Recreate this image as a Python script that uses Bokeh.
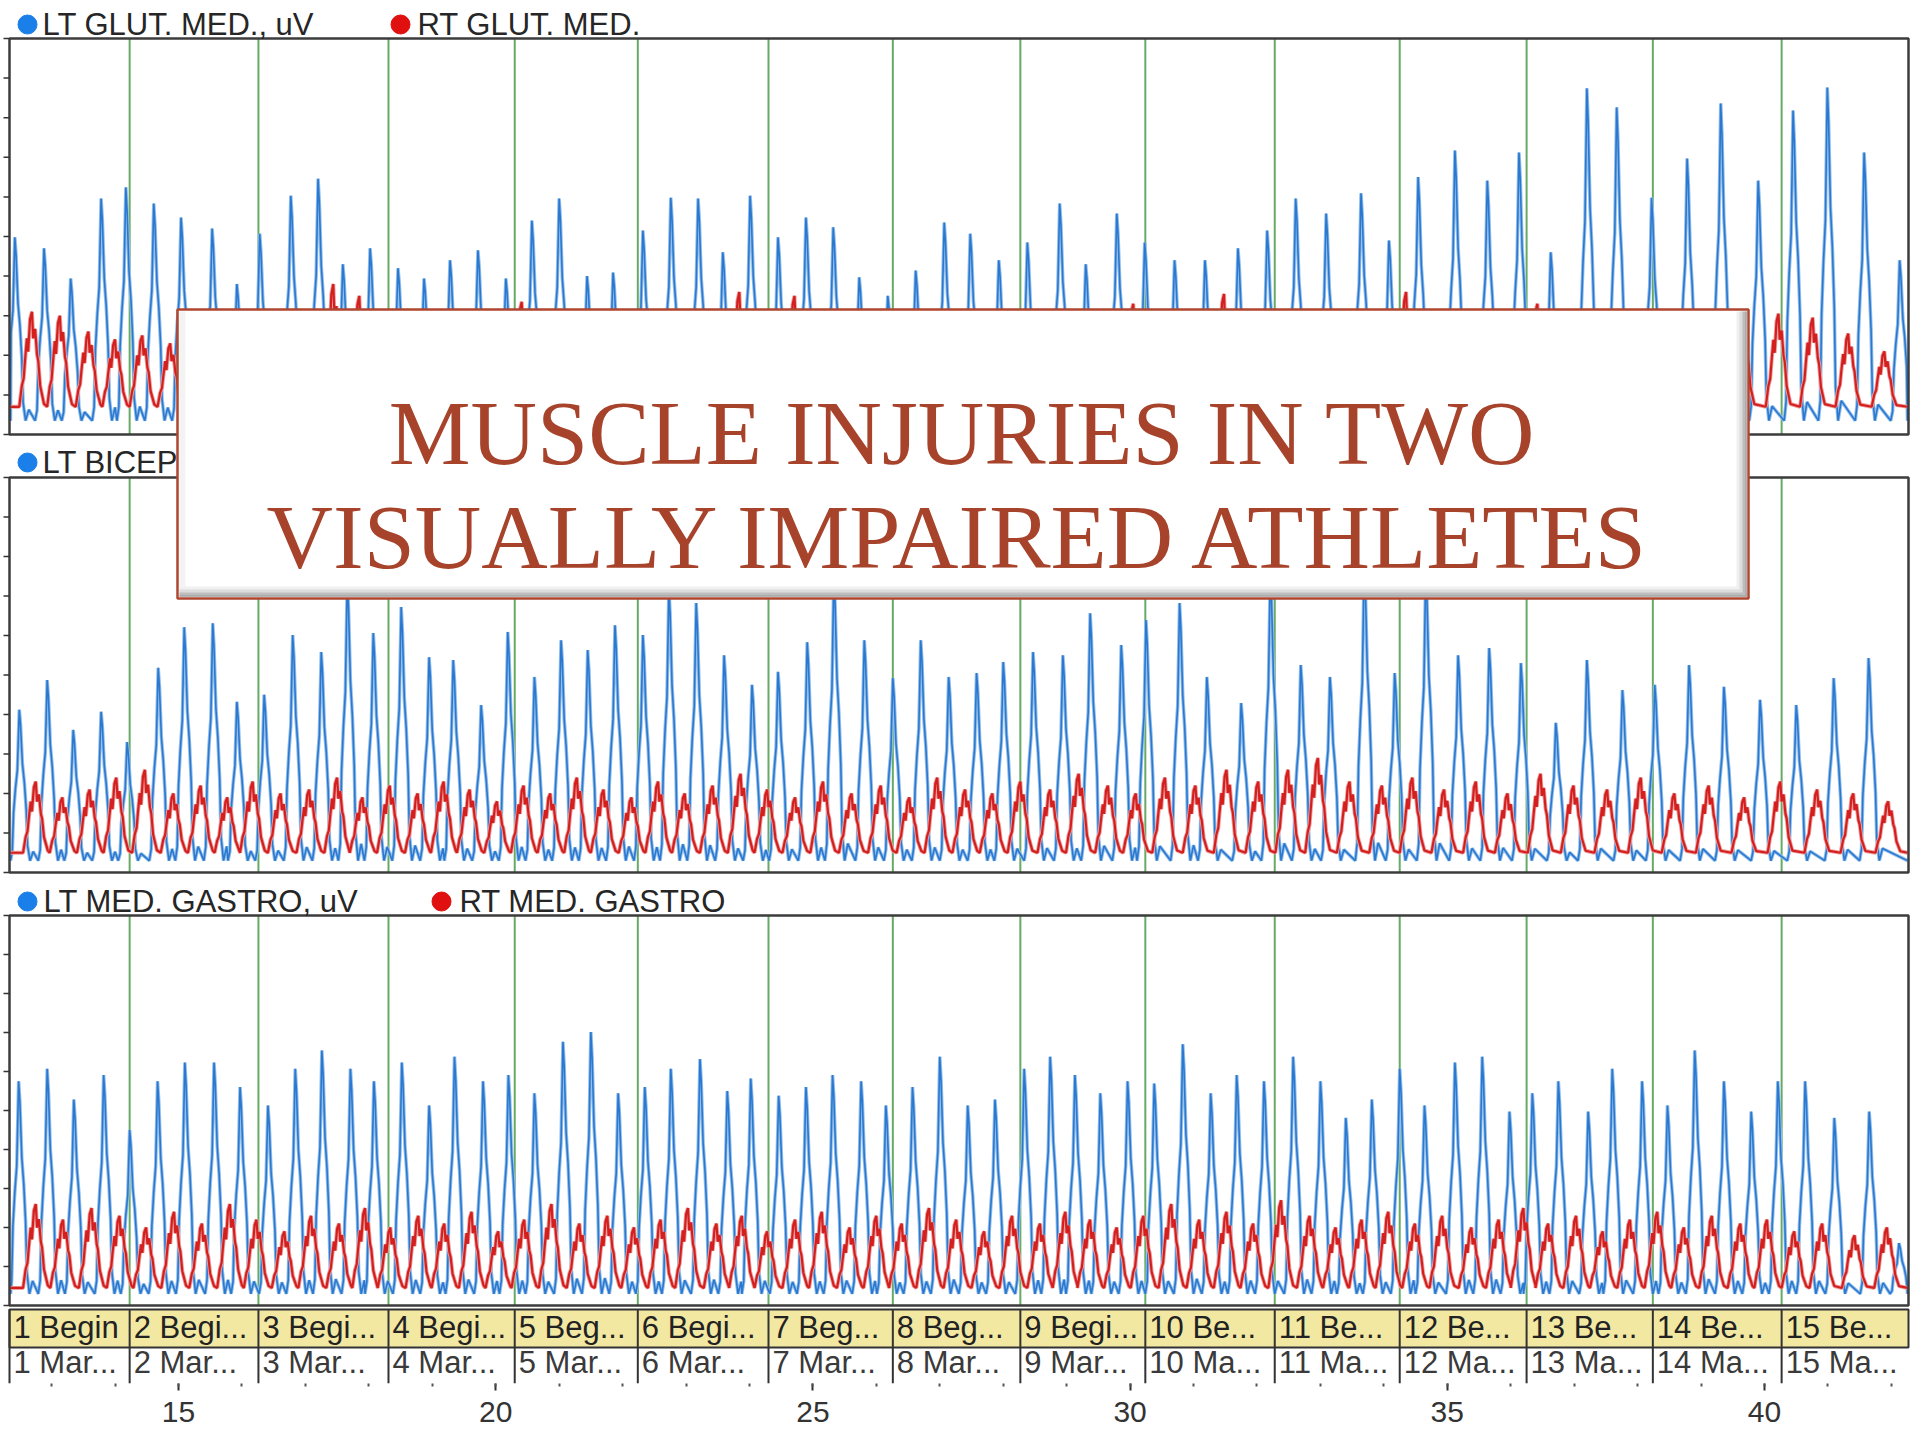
from bokeh.plotting import figure
from bokeh.models import Range1d, SingleIntervalTicker
from bokeh.core.properties import value
from bokeh.embed import file_html
from bokeh.resources import INLINE

# ---------------------------------------------------------------- data
EVENT_MARKERS = [14.23, 16.26, 18.31, 20.30, 22.24, 24.30, 26.26, 28.27,
                 30.24, 32.28, 34.25, 36.25, 38.24, 40.27]
EVENT_NAMES = ["1 Begin", "2 Begi...", "3 Begi...", "4 Begi...", "5 Beg...",
               "6 Begi...", "7 Beg...", "8 Beg...", "9 Begi...", "10 Be...",
               "11 Be...", "12 Be...", "13 Be...", "14 Be...", "15 Be..."]
EVENT_NOTES = ["1 Mar...", "2 Mar...", "3 Mar...", "4 Mar...", "5 Mar...",
               "6 Mar...", "7 Mar...", "8 Mar...", "9 Mar...", "10 Ma...",
               "11 Ma...", "12 Ma...", "13 Ma...", "14 Ma...", "15 Ma..."]

LT_NAMES = ["LT GLUT. MED., uV", "LT BICEPS FEM., uV", "LT MED. GASTRO, uV"]
RT_NAMES = ["RT GLUT. MED.", "RT BICEPS FEM.", "RT MED. GASTRO"]

TITLE_LINES = ["MUSCLE INJURIES IN TWO", "VISUALLY IMPAIRED ATHLETES"]

Y_TICKS = [0, 1, 2, 3, 4, 5, 6, 7, 8, 9, 10]

# trough levels (uV scale 0-10 per panel)
LT_BASE = [0.35, 0.30, 0.30]
RT_BASE = [0.70, 0.50, 0.45]

# panel 1 : glut. med.
P1_LT_X = [12.46, 12.92, 13.34, 13.82, 14.21, 14.65, 15.08, 15.57, 15.96, 16.32,
           16.81, 17.24, 17.63, 18.06, 18.50, 18.91, 19.32, 19.76, 20.20, 20.61,
           21.04, 21.48, 21.89, 22.36, 22.80, 23.23, 23.62, 24.05, 24.49, 24.93,
           25.36, 25.77, 26.22, 26.66, 27.11, 27.52, 27.97, 28.42, 28.93, 29.34,
           29.83, 30.27, 30.74, 31.22, 31.74, 32.20, 32.65, 33.13, 33.68, 34.12,
           34.58, 35.16, 35.67, 36.17, 36.67, 37.24, 37.71, 38.26, 38.82, 39.35,
           39.94, 40.49, 41.03, 41.61, 42.17]
P1_LT_PEAK = [4.98, 4.70, 3.94, 5.96, 6.24, 5.83, 5.48, 5.20, 3.80, 5.07,
              6.03, 6.46, 4.30, 4.70, 4.20, 3.94, 4.40, 4.65, 3.94, 5.40,
              5.96, 4.00, 4.09, 5.15, 5.98, 5.96, 4.60, 6.03, 4.98, 5.48,
              5.23, 3.97, 3.50, 4.14, 5.35, 5.07, 4.40, 4.85, 5.83, 4.30,
              5.58, 4.85, 4.40, 4.40, 4.70, 5.15, 5.96, 5.58, 6.09, 4.90,
              6.50, 7.17, 6.41, 7.12, 4.60, 8.74, 8.26, 5.98, 6.97, 8.36,
              6.41, 8.18, 8.76, 7.12, 4.40]
P1_RT_X = [12.69, 13.13, 13.58, 14.00, 14.43, 14.87, 15.32, 15.77, 16.14, 16.57,
           17.02, 17.44, 17.85, 18.28, 18.70, 19.12, 19.54, 19.98, 20.41, 20.83,
           21.26, 21.69, 22.12, 22.58, 23.02, 23.43, 23.84, 24.27, 24.71, 25.15,
           25.57, 26.00, 26.44, 26.89, 27.32, 27.75, 28.20, 28.68, 29.14, 29.59,
           30.05, 30.51, 30.98, 31.48, 31.97, 32.43, 32.89, 33.40, 33.90, 34.35,
           34.87, 35.42, 35.92, 36.42, 36.96, 37.48, 37.99, 38.54, 39.09, 39.65,
           40.22, 40.76, 41.32, 41.89]
P1_RT_PEAK = [3.10, 3.00, 2.60, 2.40, 2.50, 2.30, 2.60, 2.40, 2.70, 2.50,
              2.80, 3.80, 3.50, 2.70, 2.50, 2.90, 2.60, 2.80, 3.35, 2.60,
              2.70, 2.50, 2.90, 2.60, 2.80, 2.50, 3.60, 2.70, 3.50, 2.60,
              2.80, 2.50, 2.70, 2.90, 2.60, 2.80, 2.50, 2.70, 2.60, 2.90,
              3.30, 2.70, 2.50, 3.55, 2.80, 2.60, 2.90, 2.70, 2.60, 3.60,
              2.80, 2.60, 2.90, 3.30, 2.70, 2.80, 2.60, 2.90, 2.70, 2.90,
              3.05, 2.95, 2.55, 2.10]

# panel 2 : biceps fem.
P2_LT_X = [12.53, 12.97, 13.38, 13.82, 14.23, 14.72, 15.13, 15.58, 15.96, 16.39,
           16.84, 17.29, 17.70, 18.11, 18.55, 18.99, 19.37, 19.81, 20.23, 20.65,
           21.07, 21.49, 21.92, 22.36, 22.77, 23.20, 23.64, 24.08, 24.49, 24.95,
           25.37, 25.85, 26.30, 26.74, 27.18, 27.62, 28.04, 28.51, 28.98, 29.41,
           29.90, 30.29, 30.82, 31.25, 31.79, 32.25, 32.73, 33.19, 33.73, 34.21,
           34.70, 35.21, 35.70, 36.20, 36.75, 37.24, 37.80, 38.31, 38.85, 39.40,
           39.97, 40.54, 41.13, 41.68]
P2_LT_PEAK = [4.12, 4.87, 3.61, 4.07, 3.30, 5.18, 6.21, 6.31, 4.32, 4.50,
              6.01, 5.58, 7.40, 6.06, 6.72, 5.45, 5.38, 4.24, 6.09, 4.95,
              5.88, 5.63, 6.26, 6.01, 7.20, 6.82, 5.50, 4.75, 5.08, 5.83,
              7.50, 5.88, 4.92, 5.88, 4.95, 5.05, 5.33, 5.58, 5.50, 6.56,
              5.76, 6.39, 6.82, 4.95, 4.29, 7.60, 5.25, 4.95, 7.80, 5.05,
              7.60, 5.50, 5.68, 5.30, 3.79, 5.38, 4.62, 4.75, 5.25, 4.70,
              4.37, 4.24, 4.92, 5.43]
P2_RT_X = [12.75, 13.17, 13.60, 14.02, 14.47, 14.92, 15.35, 15.77, 16.17, 16.61,
           17.06, 17.50, 17.90, 18.33, 18.77, 19.18, 19.59, 20.02, 20.44, 20.86,
           21.28, 21.70, 22.14, 22.56, 22.98, 23.42, 23.86, 24.28, 24.72, 25.16,
           25.61, 26.07, 26.52, 26.96, 27.40, 27.83, 28.27, 28.74, 29.19, 29.65,
           30.09, 30.55, 31.03, 31.52, 32.02, 32.49, 32.96, 33.46, 33.97, 34.45,
           34.95, 35.45, 35.95, 36.47, 36.99, 37.52, 38.05, 38.58, 39.12, 39.68,
           40.25, 40.83, 41.40, 41.95]
P2_RT_PEAK = [2.3, 1.9, 2.1, 2.4, 2.6, 2.0, 2.2, 1.9, 2.3, 2.0,
              2.1, 2.4, 1.9, 2.2, 2.0, 2.3, 2.1, 1.8, 2.2, 2.0,
              2.4, 2.1, 1.9, 2.3, 2.0, 2.2, 2.5, 2.1, 1.9, 2.3,
              2.0, 2.2, 1.9, 2.4, 2.1, 2.0, 2.3, 2.1, 2.5, 2.2,
              2.0, 2.4, 2.2, 2.6, 2.3, 2.6, 2.9, 2.3, 2.2, 2.4,
              2.1, 2.3, 2.0, 2.5, 2.2, 2.1, 2.4, 2.0, 2.2, 1.9,
              2.3, 2.1, 2.0, 1.8]

# panel 3 : med. gastro
P3_LT_X = [12.52, 12.97, 13.39, 13.86, 14.27, 14.71, 15.14, 15.60, 16.01, 16.45,
           16.88, 17.30, 17.75, 18.12, 18.56, 18.99, 19.39, 19.84, 20.24, 20.65,
           21.10, 21.54, 21.97, 22.39, 22.80, 23.26, 23.69, 24.06, 24.50, 24.93,
           25.35, 25.80, 26.19, 26.61, 27.04, 27.48, 27.91, 28.37, 28.78, 29.17,
           29.57, 30.00, 30.42, 30.87, 31.31, 31.72, 32.15, 32.61, 33.04, 33.44,
           33.85, 34.29, 34.68, 35.16, 35.59, 36.02, 36.38, 36.79, 37.26, 37.64,
           38.11, 38.51, 38.94, 39.40, 39.83, 40.25, 40.68, 41.14, 41.69, 42.16]
P3_LT_PEAK = [5.75, 6.07, 5.28, 5.91, 4.50, 5.75, 6.23, 6.23, 5.60, 5.13,
              6.07, 6.54, 6.07, 5.75, 6.23, 5.13, 6.38, 5.75, 5.91, 5.44,
              6.76, 7.01, 5.44, 5.60, 6.07, 6.32, 5.50, 5.82, 5.38, 5.60,
              5.91, 5.75, 5.13, 5.60, 6.38, 5.13, 5.28, 6.07, 6.38, 5.91,
              5.44, 5.75, 5.69, 6.70, 5.44, 5.91, 5.75, 6.38, 5.75, 4.81,
              5.28, 6.07, 5.13, 6.23, 6.38, 4.97, 5.44, 5.75, 4.97, 6.07,
              5.75, 5.13, 6.54, 5.75, 4.97, 5.75, 5.75, 4.81, 4.97, 1.60]
P3_RT_X = [12.75, 13.18, 13.63, 14.07, 14.49, 14.93, 15.37, 15.81, 16.23, 16.67,
           17.09, 17.53, 17.94, 18.34, 18.78, 19.19, 19.62, 20.04, 20.45, 20.88,
           21.32, 21.76, 22.18, 22.60, 23.03, 23.48, 23.88, 24.28, 24.72, 25.14,
           25.58, 26.00, 26.40, 26.83, 27.26, 27.70, 28.14, 28.58, 28.98, 29.37,
           29.79, 30.21, 30.65, 31.09, 31.52, 31.94, 32.38, 32.83, 33.24, 33.65,
           34.07, 34.49, 34.92, 35.38, 35.81, 36.20, 36.59, 37.03, 37.45, 37.88,
           38.31, 38.73, 39.17, 39.62, 40.04, 40.47, 40.91, 41.42, 41.93]
P3_RT_PEAK = [2.6, 2.2, 2.5, 2.3, 2.0, 2.4, 2.1, 2.6, 2.2, 1.9,
              2.3, 2.1, 2.5, 2.0, 2.3, 2.1, 2.4, 1.9, 2.2, 2.6,
              2.1, 2.3, 2.0, 2.2, 2.5, 2.1, 2.3, 1.9, 2.2, 2.4,
              2.0, 2.3, 2.1, 2.5, 2.2, 1.9, 2.3, 2.1, 2.4, 2.2,
              2.0, 2.3, 2.6, 2.2, 2.4, 2.1, 2.7, 2.3, 2.0, 2.2,
              2.4, 2.1, 2.3, 2.0, 2.2, 2.5, 2.1, 2.3, 1.9, 2.2,
              2.4, 2.0, 2.3, 2.1, 2.2, 1.9, 2.1, 1.8, 2.0]

PANELS = [(P1_LT_X, P1_LT_PEAK, P1_RT_X, P1_RT_PEAK),
          (P2_LT_X, P2_LT_PEAK, P2_RT_X, P2_RT_PEAK),
          (P3_LT_X, P3_LT_PEAK, P3_RT_X, P3_RT_PEAK)]

# ---------------------------------------------------------------- layout (page pixels)
W, H = 1925, 1435
BOTTOM_BORDER = 52
REF_X0, REF_X1 = 0, W
REF_Y0, REF_Y1 = 0, H - BOTTOM_BORDER
X15_PX, PX_PER_UNIT = 178.0, 63.44
PANEL_L, PANEL_R = 9, 1908
PANEL_TB = [(38, 434), (477, 872), (915, 1305)]
LEGEND_MID = [24, 462, 901]          # cap centre of legend texts
LT_DOT_X, LT_TXT_X = [27, 27, 27], [42, 42, 43]
RT_DOT_X, RT_TXT_X = [400, 420, 441], [417, 437, 459]
TABLE_TOP, TABLE_MID, TABLE_BOT = 1309, 1347, 1383

BLUE, BLUE_HALO = "#2a78d0", "#94bfea"
RED, RED_HALO = "#d41f1f", "#eea0a0"
GREEN = "#66aa66"
FONT = "Liberation Sans"


def to_data_x(px):
    return 15 + (px - X15_PX) / PX_PER_UNIT


# shape templates of one burst (offset in s, fraction of amplitude)
LT_SHAPE = [(-0.18, 0.00), (-0.15, 0.06), (-0.13, 0.32), (-0.10, 0.48),
            (-0.07, 0.60), (-0.04, 1.00), (-0.02, 0.90), (0.01, 0.64),
            (0.04, 0.52), (0.07, 0.34), (0.09, 0.10), (0.13, 0.00), (0.18, 0.06)]
RT_SHAPE = [(-0.20, 0.00), (-0.16, 0.22), (-0.13, 0.30), (-0.11, 0.48),
            (-0.08, 0.72), (-0.06, 0.58), (-0.03, 0.92), (0.0, 1.00),
            (0.02, 0.72), (0.05, 0.82), (0.08, 0.55), (0.10, 0.48),
            (0.13, 0.22), (0.19, 0.03)]


def trace(xs, hs, base, shape):
    lo, hi = to_data_x(PANEL_L + 1), to_data_x(PANEL_R - 1)
    tx, ty = [lo], [base]
    for x, h in zip(xs, hs):
        for dx, f in shape:
            if lo < x + dx < hi:
                tx.append(x + dx)
                ty.append(base + f * (h - base))
    tx.append(hi)
    ty.append(base)
    return tx, ty


p = figure(width=W, height=H,
           x_range=Range1d(to_data_x(REF_X0), to_data_x(REF_X1)),
           y_range=Range1d(REF_Y1, REF_Y0),
           output_backend="svg", toolbar_location=None,
           x_axis_location="below", y_axis_location=None,
           min_border_left=0, min_border_right=0, min_border_top=0,
           min_border_bottom=BOTTOM_BORDER, outline_line_color=None,
           background_fill_color="white", border_fill_color="white")
p.xgrid.visible = False
p.ygrid.visible = False
p.extra_x_ranges = {"px": Range1d(REF_X0, REF_X1)}

ranges = {}
for i, (top, bot) in enumerate(PANEL_TB):
    k = 10.0 / (bot - top)
    ranges["p%d" % i] = Range1d(-(REF_Y1 - bot) * k, 10 + (top - REF_Y0) * k)
p.extra_y_ranges = ranges

# axis
ax = p.xaxis[0]
ax.ticker = SingleIntervalTicker(interval=5, num_minor_ticks=5)
ax.axis_line_color = None
ax.major_tick_in = 0
ax.major_tick_out = 7
ax.minor_tick_in = 0
ax.minor_tick_out = 3
ax.major_tick_line_color = "#333333"
ax.major_tick_line_width = 2
ax.minor_tick_line_color = "#555555"
ax.minor_tick_line_width = 2
ax.major_label_text_font = FONT
ax.major_label_text_font_size = "30px"
ax.major_label_text_color = "#333333"
ax.major_label_standoff = 11

# panels
for i, (top, bot) in enumerate(PANEL_TB):
    rn = "p%d" % i
    lx, lh, rx, rh = PANELS[i]
    p.segment(x0=EVENT_MARKERS, x1=EVENT_MARKERS, y0=0, y1=10,
              y_range_name=rn, line_color=GREEN, line_width=2)
    bx, by = trace(lx, lh, LT_BASE[i], LT_SHAPE)
    p.line(bx, by, y_range_name=rn, line_color=BLUE_HALO, line_width=3.5)
    p.line(bx, by, y_range_name=rn, line_color=BLUE, line_width=1.6)
    rxx, ryy = trace(rx, rh, RT_BASE[i], RT_SHAPE)
    p.line(rxx, ryy, y_range_name=rn, line_color=RED_HALO, line_width=4)
    p.line(rxx, ryy, y_range_name=rn, line_color=RED, line_width=2.2)
    p.quad(left=PANEL_L, right=PANEL_R, top=top, bottom=bot, x_range_name="px",
           fill_color=None, line_color="#3c3c3c", line_width=2.5)
    # y ticks at the left edge
    p.segment(x0=3, x1=PANEL_L, y0=Y_TICKS, y1=Y_TICKS, x_range_name="px",
              y_range_name=rn, line_color="#333333", line_width=1.5)
    # legend
    p.scatter(x=[LT_DOT_X[i], RT_DOT_X[i]], y=[LEGEND_MID[i]] * 2,
              x_range_name="px", size=19, color=["#1a7fe8", "#e01010"])
    p.text(x=[LT_TXT_X[i], RT_TXT_X[i]], y=[LEGEND_MID[i]] * 2,
           text=[LT_NAMES[i], RT_NAMES[i]], x_range_name="px",
           text_font=value(FONT), text_font_size="31px", text_color="#262626",
           text_baseline="alphabetic", text_align="left")

# event table
p.quad(left=PANEL_L, right=PANEL_R, top=TABLE_TOP, bottom=TABLE_MID,
       x_range_name="px", fill_color="#f2e8a2", line_color="#333333", line_width=2)
p.segment(x0=EVENT_MARKERS, x1=EVENT_MARKERS, y0=TABLE_TOP, y1=TABLE_BOT,
          line_color="#333333", line_width=2)
p.segment(x0=[PANEL_L], x1=[PANEL_L], y0=TABLE_TOP, y1=TABLE_BOT,
          x_range_name="px", line_color="#333333", line_width=2)
cell_left = [to_data_x(PANEL_L)] + EVENT_MARKERS
p.text(x=cell_left, y=[1327] * len(cell_left), text=EVENT_NAMES,
       x_offset=4, text_font=value(FONT), text_font_size="31px",
       text_color="#222222", text_baseline="alphabetic", text_align="left")
p.text(x=cell_left, y=[1362] * len(cell_left), text=EVENT_NOTES,
       x_offset=4, text_font=value(FONT), text_font_size="31px",
       text_color="#3a3a3a", text_baseline="alphabetic", text_align="left")

# title box (overlay)
BL, BR, BT, BB = 177, 1748, 309, 598
p.quad(left=BL, right=BR, top=BT, bottom=BB, x_range_name="px",
       fill_color="white", line_color=None, level="overlay")
for d, c in [(12, "#f0f0f0"), (9, "#dcdcdc"), (6, "#bdbdbd"), (3, "#9a9a9a")]:
    p.quad(left=BL + 2, right=BR - 2, top=BB - d, bottom=BB - 2, x_range_name="px",
           fill_color=c, line_color=None, level="overlay")
    p.quad(left=BR - d, right=BR - 2, top=BT + 2, bottom=BB - 2, x_range_name="px",
           fill_color=c, line_color=None, level="overlay")
p.quad(left=BL + 2, right=BL + 8, top=BT + 2, bottom=BB - 12, x_range_name="px",
       fill_color="#f3f3f3", line_color=None, level="overlay")
p.quad(left=BL, right=BR, top=BT, bottom=BB, x_range_name="px",
       fill_color=None, line_color="#b0462f", line_width=2.5, level="overlay")
p.text(x=[962, 960], y=[432, 536], text=TITLE_LINES, x_range_name="px",
       text_font=value("Liberation Serif"), text_font_size="92px",
       text_color="#a8432b", text_align="center", text_baseline="alphabetic",
       level="overlay")

open("out.html", "w").write(file_html(p, INLINE))
